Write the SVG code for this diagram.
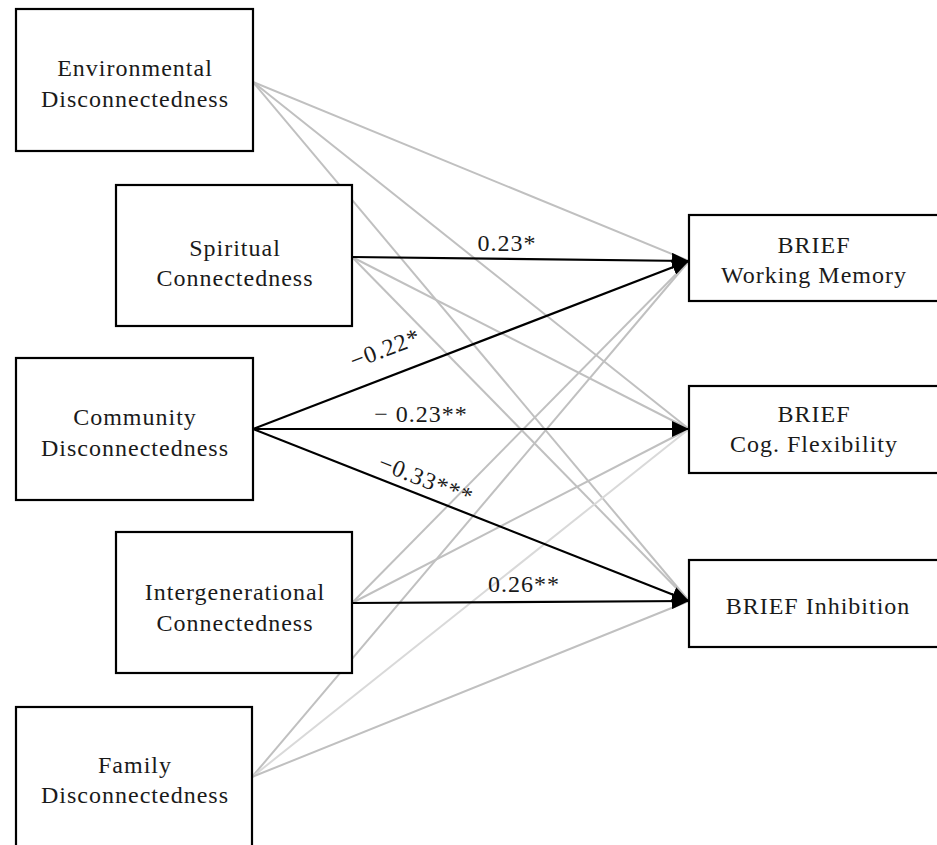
<svg xmlns="http://www.w3.org/2000/svg" width="937" height="845" viewBox="0 0 937 845">
<style>
.box{fill:#fff;stroke:#000;stroke-width:2.2}
.t{font-family:"Liberation Serif","Times New Roman",serif;font-size:24px;letter-spacing:1px;fill:#1a1a1a;text-anchor:middle}
.g{stroke:#c0c0c0;stroke-width:2;fill:none}
.gl{stroke:#d9d9d9;stroke-width:2;fill:none}
.b{stroke:#000;stroke-width:2.2;fill:none;marker-end:url(#ah)}
.lbl{font-family:"Liberation Serif","Times New Roman",serif;font-size:24px;letter-spacing:1px;fill:#1a1a1a;text-anchor:middle}
</style>
<defs>
<marker id="ah" markerUnits="userSpaceOnUse" markerWidth="18" markerHeight="16" refX="17" refY="8" orient="auto">
<path d="M0,0 L17,8 L0,16 Z" fill="#000"/>
</marker>
</defs>
<rect width="937" height="845" fill="#fff"/>
<g id="connectors">
<line class="g" x1="253" y1="82" x2="689" y2="261"/>
<line class="g" x1="253" y1="82" x2="689" y2="429"/>
<line class="g" x1="253" y1="82" x2="689" y2="601"/>
<line class="g" x1="352" y1="257" x2="689" y2="429"/>
<line class="g" x1="352" y1="257" x2="689" y2="601"/>
<line class="g" x1="352" y1="603" x2="689" y2="261"/>
<line class="g" x1="352" y1="603" x2="689" y2="429"/>
<line class="g" x1="252" y1="777" x2="689" y2="261"/>
<line class="gl" x1="252" y1="777" x2="689" y2="429"/>
<line class="g" x1="252" y1="777" x2="689" y2="601"/>
<line class="b" x1="352" y1="257" x2="689" y2="261"/>
<line class="b" x1="253" y1="429" x2="689" y2="261"/>
<line class="b" x1="253" y1="429" x2="689" y2="429"/>
<line class="b" x1="253" y1="429" x2="689" y2="601"/>
<line class="b" x1="352" y1="603" x2="689" y2="601"/>
<text class="lbl" x="507" y="251">0.23*</text>
<text class="lbl" transform="translate(388,356) rotate(-21.07)">−0.22*</text>
<text class="lbl" x="421" y="422">− 0.23**</text>
<text class="lbl" transform="translate(423,487) rotate(21.53)">−0.33***</text>
<text class="lbl" x="524" y="592">0.26**</text>
</g>
<g id="env">
<rect class="box" x="16" y="9" width="237" height="142"/>
<text class="t" x="135" y="76">Environmental</text>
<text class="t" x="135" y="107">Disconnectedness</text>
</g>
<g id="spiritual">
<rect class="box" x="116" y="185" width="236" height="141"/>
<text class="t" x="235" y="256">Spiritual</text>
<text class="t" x="235" y="286">Connectedness</text>
</g>
<g id="community">
<rect class="box" x="16" y="358" width="237" height="142"/>
<text class="t" x="135" y="425">Community</text>
<text class="t" x="135" y="456">Disconnectedness</text>
</g>
<g id="intergen">
<rect class="box" x="116" y="532" width="236" height="141"/>
<text class="t" x="235" y="600">Intergenerational</text>
<text class="t" x="235" y="631">Connectedness</text>
</g>
<g id="family">
<rect class="box" x="16" y="707" width="236" height="142"/>
<text class="t" x="135" y="773">Family</text>
<text class="t" x="135" y="803">Disconnectedness</text>
</g>
<g id="wm">
<rect class="box" x="689" y="215" width="252" height="86"/>
<text class="t" x="814" y="253">BRIEF</text>
<text class="t" x="814" y="283">Working Memory</text>
</g>
<g id="cf">
<rect class="box" x="689" y="386" width="252" height="87"/>
<text class="t" x="814" y="422">BRIEF</text>
<text class="t" x="814" y="452">Cog. Flexibility</text>
</g>
<g id="inh">
<rect class="box" x="689" y="560" width="252" height="87"/>
<text class="t" x="818" y="614">BRIEF Inhibition</text>
</g>
</svg>
